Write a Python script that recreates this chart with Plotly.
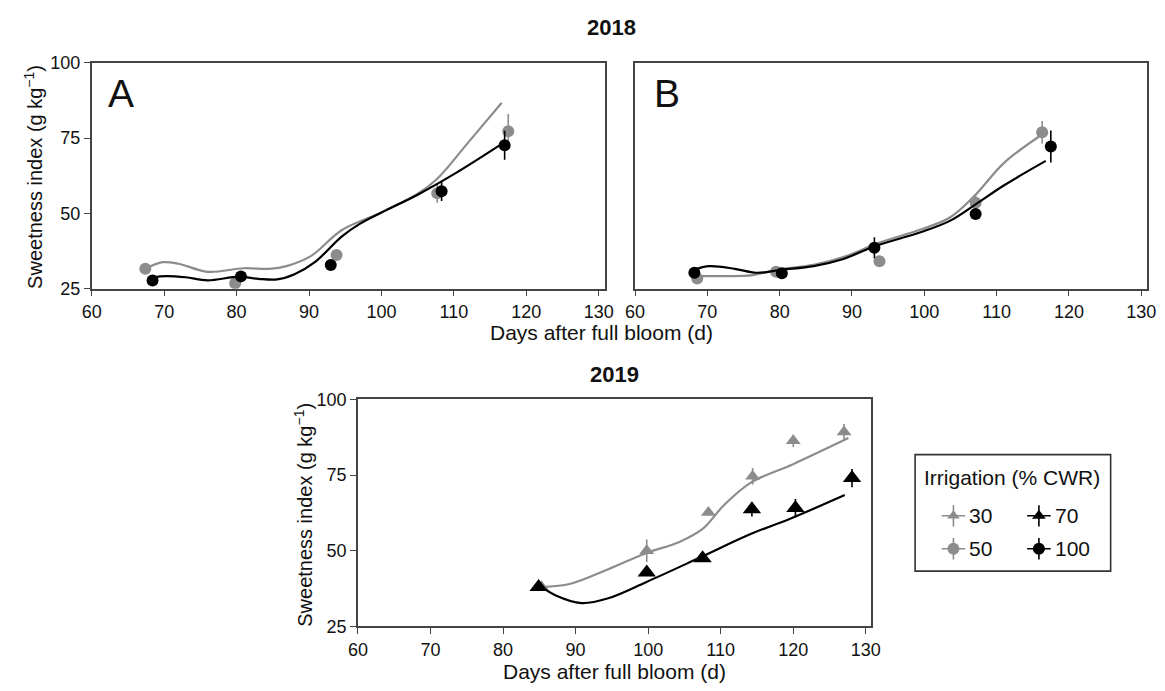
import plotly.graph_objects as go

# ---------------- data ----------------
# 2018 panel A
a50_days = [67.4, 79.8, 93.8, 107.7, 117.5]
a50_sweet = [31.6, 26.8, 36.2, 56.7, 77.2]
a50_err = [0.8, 0.8, 0.8, 3.2, 5.8]
a100_days = [68.4, 80.6, 93.0, 108.3, 117.0]
a100_sweet = [27.7, 29.1, 32.9, 57.3, 72.6]
a100_err = [0.8, 0.8, 0.8, 3.2, 4.8]
a50_fit_days = [67.4, 69.8, 72.0, 76.0, 81.0, 84.5, 87.0, 90.3, 94.5, 100.0, 105.0, 107.7, 111.9, 116.6]
a50_fit_sweet = [31.6, 33.8, 33.3, 30.6, 31.8, 31.6, 32.6, 35.9, 44.4, 50.3, 56.5, 61.5, 73.3, 86.7]
a100_fit_days = [68.4, 70.3, 73.0, 76.0, 80.3, 83.0, 85.6, 88.0, 90.8, 94.5, 97.0, 100.0, 105.0, 110.0, 117.1]
a100_fit_sweet = [28.8, 29.2, 28.8, 27.8, 29.0, 28.3, 28.1, 29.8, 33.8, 42.3, 46.5, 50.3, 56.2, 63.0, 73.8]

# 2018 panel B
b50_days = [68.6, 79.5, 93.8, 107.1, 116.3]
b50_sweet = [28.4, 30.6, 34.1, 53.5, 76.9]
b50_err = [0.8, 0.8, 0.8, 3.0, 3.7]
b100_days = [68.2, 80.3, 93.1, 107.1, 117.5]
b100_sweet = [30.3, 30.1, 38.6, 49.8, 72.2]
b100_err = [0.9, 0.8, 3.5, 1.6, 5.3]
b50_fit_days = [68.3, 72.3, 76.3, 79.5, 84.7, 88.7, 93.7, 99.7, 103.6, 107.1, 111.1, 116.8]
b50_fit_sweet = [29.2, 29.2, 29.5, 31.3, 32.9, 35.4, 40.2, 44.8, 48.7, 56.2, 66.9, 77.0]
b100_fit_days = [68.1, 70.3, 73.8, 76.8, 80.3, 84.7, 88.7, 93.2, 99.7, 103.6, 107.1, 111.1, 116.8]
b100_fit_sweet = [31.3, 32.5, 31.6, 30.3, 31.3, 32.5, 34.8, 39.1, 43.9, 47.6, 53.0, 59.4, 67.4]

# 2019
c30_days = [85.3, 99.8, 108.3, 114.4, 120.0, 127.0]
c30_sweet = [38.0, 50.0, 62.6, 74.6, 86.3, 89.2]
c30_err = [0.8, 3.7, 0.8, 2.7, 2.0, 2.7]
c70_days = [84.9, 99.8, 107.5, 114.3, 120.3, 128.1]
c70_sweet = [38.0, 42.8, 47.5, 63.7, 64.1, 74.0]
c70_err = [0.8, 0.8, 0.8, 2.4, 3.0, 3.0]
c30_fit_days = [85.3, 89.3, 94.5, 99.7, 104.3, 107.5, 110.5, 114.2, 119.9, 127.6]
c30_fit_sweet = [38.0, 39.1, 43.9, 49.2, 52.9, 57.2, 65.2, 72.6, 78.5, 87.2]
c70_fit_days = [84.9, 87.2, 90.8, 94.5, 99.7, 107.0, 114.2, 119.4, 127.1]
c70_fit_sweet = [38.7, 35.3, 32.7, 34.3, 39.6, 47.6, 55.6, 60.4, 68.4]

x_ticks = [60, 70, 80, 90, 100, 110, 120, 130]
y_ticks = [25, 50, 75, 100]
legend_labels = ["30", "70", "50", "100"]

# ---------------- styling ----------------
OFF = 8                      # default page (body) margin of the html page
W, H = 1165 - 2 * OFF, 691 - 2 * OFF
GRAY = "#8c8c8c"
BLACK = "#000000"
FONT = "Liberation Sans, Arial, sans-serif"
TXT = "#111111"

def px(x):
    return (x - OFF) / W

def py(y):
    return 1 - (y - OFF) / H

fig = go.Figure()

def add_series(xa, ya, days, vals, errs, fit_d, fit_v, color, symbol, msize):
    fig.add_trace(go.Scatter(
        x=fit_d, y=fit_v, mode="lines", line=dict(color=color, width=2.2, shape="spline", smoothing=1.0),
        xaxis=xa, yaxis=ya, showlegend=False, hoverinfo="skip"))
    fig.add_trace(go.Scatter(
        x=days, y=vals, mode="markers",
        marker=dict(color=color, symbol=symbol, size=msize, line=dict(width=0)),
        error_y=dict(type="data", array=errs, visible=True, color=color, thickness=1.6, width=0),
        xaxis=xa, yaxis=ya, showlegend=False))

add_series("x", "y", a50_days, a50_sweet, a50_err, a50_fit_days, a50_fit_sweet, GRAY, "circle", 12)
add_series("x", "y", a100_days, a100_sweet, a100_err, a100_fit_days, a100_fit_sweet, BLACK, "circle", 12)
add_series("x2", "y2", b50_days, b50_sweet, b50_err, b50_fit_days, b50_fit_sweet, GRAY, "circle", 12)
add_series("x2", "y2", b100_days, b100_sweet, b100_err, b100_fit_days, b100_fit_sweet, BLACK, "circle", 12)
add_series("x3", "y3", c30_days, c30_sweet, c30_err, c30_fit_days, c30_fit_sweet, GRAY, "triangle-up", 13)
add_series("x3", "y3", c70_days, c70_sweet, c70_err, c70_fit_days, c70_fit_sweet, BLACK, "triangle-up", 16)

# manual legend keys on a pixel-scaled hidden axis (layout positions)
leg_box = dict(x0=921, x1=1120, y0=458, y1=578)
key_pos = {"30": (960, 521), "70": (1047, 521), "50": (960, 555), "100": (1047, 555)}
key_style = {"30": (GRAY, "triangle-up", 11), "70": (BLACK, "triangle-up", 12),
             "50": (GRAY, "circle", 12), "100": (BLACK, "circle", 12)}
for lab in legend_labels:
    cx, cy = key_pos[lab]
    col, sym, sz = key_style[lab]
    fig.add_trace(go.Scatter(
        x=[cx], y=[cy], mode="markers",
        marker=dict(color=col, symbol=sym, size=sz, line=dict(width=0)),
        error_x=dict(type="constant", value=12, color=col, thickness=1.6, width=0),
        error_y=dict(type="constant", value=11, color=col, thickness=1.6, width=0),
        xaxis="x4", yaxis="y4", showlegend=False, hoverinfo="skip"))

axis_common = dict(
    showline=True, linecolor="#444444", linewidth=1.5, mirror=True,
    ticklen=6, tickwidth=1.3, tickcolor="#444444",
    showgrid=False, zeroline=False,
    tickfont=dict(family=FONT, size=18, color=TXT),
)

layout = dict(
    width=W, height=H, margin=dict(l=0, r=0, t=0, b=0),
    paper_bgcolor="white", plot_bgcolor="white",
    font=dict(family=FONT, color=TXT),
    showlegend=False,
    xaxis=dict(domain=[px(83), px(605)], range=[60, 130.8], tickvals=x_ticks, anchor="y", ticks="outside", **axis_common),
    yaxis=dict(domain=[py(287), py(54)], range=[25, 100], tickvals=y_ticks, anchor="x", ticks="outside", **axis_common),
    xaxis2=dict(domain=[px(636), px(1157)], range=[60, 130.8], tickvals=x_ticks, anchor="y2", ticks="outside", **axis_common),
    yaxis2=dict(domain=[py(287), py(54)], range=[25, 100], tickvals=y_ticks, anchor="x2",
                showticklabels=False, ticks="", **axis_common),
    xaxis3=dict(domain=[px(354), px(876)], range=[60, 130.7], tickvals=x_ticks, anchor="y3", ticks="outside", **axis_common),
    yaxis3=dict(domain=[py(635), py(401)], range=[25, 100], tickvals=y_ticks, anchor="x3", ticks="outside", **axis_common),
    xaxis4=dict(domain=[px(leg_box["x0"]), px(leg_box["x1"])], range=[leg_box["x0"], leg_box["x1"]],
                visible=False, anchor="y4", fixedrange=True),
    yaxis4=dict(domain=[py(leg_box["y1"]), py(leg_box["y0"])], range=[leg_box["y1"], leg_box["y0"]],
                visible=False, anchor="x4", fixedrange=True),
)
fig.update_layout(**layout)

# legend border
fig.add_shape(type="rect", xref="paper", yref="paper",
              x0=px(leg_box["x0"]), x1=px(leg_box["x1"]), y0=py(leg_box["y1"]), y1=py(leg_box["y0"]),
              line=dict(color="#333333", width=1.6), fillcolor="rgba(0,0,0,0)")

ann = []
def text(x, y, s, size, bold=False, angle=0, xanchor="center"):
    ann.append(dict(x=px(x), y=py(y), xref="paper", yref="paper", text=("<b>%s</b>" % s) if bold else s,
                    showarrow=False, textangle=angle, xanchor=xanchor, yanchor="middle",
                    font=dict(family=FONT, size=size, color=TXT)))

text(612, 18, "2018", 22, bold=True)
text(615, 375, "2019", 22, bold=True)
text(113, 86, "A", 39)
text(668, 86, "B", 39)
ytitle = "Sweetness index (g kg<sup>\u22121</sup>)"
text(23, 172, ytitle, 20, angle=-90)
text(299, 520, ytitle, 20, angle=-90)
text(602, 332, "Days after full bloom (d)", 21)
text(615, 681, "Days after full bloom (d)", 21)
text(1020, 482, "Irrigation (% CWR)", 21)
for lab in legend_labels:
    cx, cy = key_pos[lab]
    text(cx + 14, cy, lab, 21, xanchor="left")

fig.update_layout(annotations=ann)
fig.write_html("out.html")
